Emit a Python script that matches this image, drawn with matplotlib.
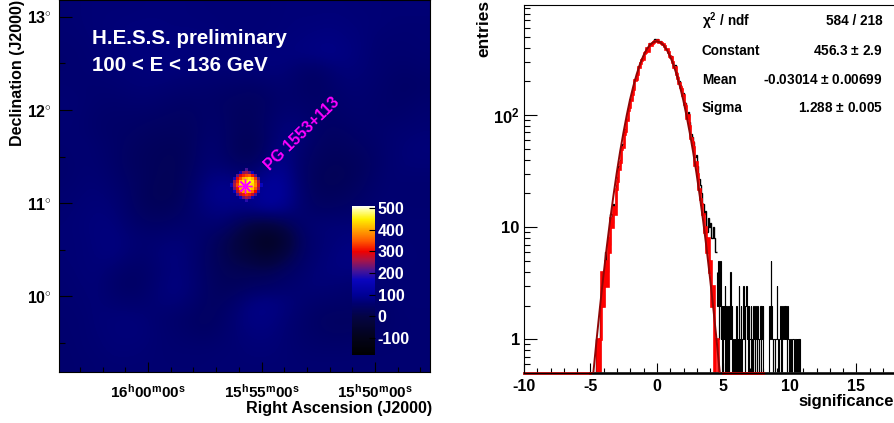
import numpy as np
import matplotlib
matplotlib.use('Agg')
import matplotlib.pyplot as plt
from matplotlib.colors import LinearSegmentedColormap

plt.rcParams['font.family'] = ['Liberation Sans', 'DejaVu Sans']
plt.rcParams['font.weight'] = 'bold'
plt.rcParams['axes.labelweight'] = 'bold'
plt.rcParams['axes.unicode_minus'] = False
plt.rcParams['mathtext.fontset'] = 'custom'
plt.rcParams['mathtext.bf'] = 'Liberation Sans:bold'
plt.rcParams['mathtext.rm'] = 'Liberation Sans:bold'
plt.rcParams['mathtext.default'] = 'bf'

# excess map (top row first)
sky_map = [
    [62,64,66,66,66,68,68,68,68,66,66,66,66,66,68,68,68,68,68,66,66,64,66,66],
    [62,64,66,68,70,70,70,68,68,68,66,66,66,66,68,70,70,72,70,68,66,64,62,62],
    [60,62,66,68,70,70,72,72,72,70,68,66,66,68,70,72,76,78,74,70,62,60,60,62],
    [58,60,64,66,70,72,74,72,70,68,66,64,68,72,74,76,80,85,78,70,60,58,58,60],
    [58,60,62,64,66,68,72,70,68,66,64,66,68,70,68,55,48,60,70,66,60,54,52,56],
    [60,58,58,60,64,66,64,60,58,56,54,50,48,54,58,50,42,50,62,62,56,50,46,50],
    [62,60,56,54,56,58,54,50,48,50,44,42,38,44,54,52,48,50,56,58,54,50,50,56],
    [62,58,52,50,50,48,46,42,42,50,48,36,36,48,62,60,50,48,52,56,52,52,56,60],
    [60,58,52,48,46,42,38,38,38,52,50,36,32,50,70,72,52,42,44,50,54,60,62,64],
    [58,62,56,50,42,36,32,30,36,58,52,30,24,50,78,62,44,36,38,44,50,60,66,70],
    [56,60,58,50,40,34,30,28,38,60,56,42,38,70,88,56,38,30,30,36,48,60,66,66],
    [56,62,62,54,44,36,28,28,44,70,82,72,72,100,100,60,32,26,28,38,52,60,60,60],
    [60,64,66,60,48,32,26,28,50,80,92,88,90,110,105,66,36,32,36,46,56,60,58,58],
    [62,66,70,66,50,36,32,36,54,72,80,78,85,100,90,62,46,44,48,54,60,62,60,60],
    [64,68,72,72,58,48,46,52,56,58,58,30,-5,-10,15,50,62,66,66,66,64,64,62,62],
    [64,66,72,76,66,60,62,66,62,48,25,-5,-50,-85,-50,30,58,66,72,74,68,64,62,62],
    [64,66,70,74,62,56,66,74,62,44,25,0,-20,-45,-5,40,60,70,80,78,70,66,64,62],
    [62,66,68,58,48,50,62,72,64,44,30,25,25,25,40,52,66,72,74,72,66,62,62,62],
    [60,64,66,52,44,50,66,76,66,46,34,34,42,46,54,62,66,64,60,58,60,60,62,62],
    [60,62,66,60,56,58,66,68,58,44,42,56,78,82,74,62,54,52,50,48,50,58,62,62],
    [58,60,66,68,70,66,58,52,46,40,48,66,80,80,68,56,46,40,40,40,46,56,60,60],
    [58,60,64,68,70,68,60,56,50,46,54,64,72,72,64,54,48,44,44,46,52,58,60,60],
    [56,60,62,66,66,64,60,58,58,58,60,62,66,66,62,58,54,54,54,58,60,60,60,60],
    [56,58,60,62,62,62,60,60,60,60,62,62,62,62,62,60,60,60,60,60,60,60,60,60],
]

n = np.nan
source_map = [
    [n,n,n,n,n,210,n,n,n,n,n],
    [n,n,n,170,240,260,230,170,n,n,n],
    [n,n,220,290,320,340,350,310,220,n,n],
    [n,180,290,340,400,420,440,410,330,210,n],
    [n,240,320,410,440,450,460,450,370,260,n],
    [170,260,340,430,450,455,450,440,380,280,170],
    [n,230,310,400,440,450,440,420,350,250,n],
    [n,170,270,330,390,410,400,360,300,190,n],
    [n,n,210,270,310,330,320,280,210,n,n],
    [n,n,n,170,230,260,240,170,n,n,n],
    [n,n,n,n,n,190,n,n,n,n,n],
]

# significance histograms, 0.1 wide bins from -5
black_counts = [
    0,0,0,0,1,1,0,2,3,2,
    4,6,4,8,7,13,11,16,15,24,
    28,35,40,53,55,70,75,93,115,122,
    140,160,176,210,212,238,272,296,315,325,
    360,368,400,382,438,425,448,458,475,462,
    476,452,460,446,434,420,398,392,372,342,
    334,306,276,278,242,222,202,186,176,156,
    132,128,102,106,86,68,64,58,42,44,
    35,27,24,20,16,13,14,9,12,10,
    11,8,10,8,6,
]
# right tail, 0.05 wide bins from 4.5
tail_counts = [
    4,2,5,1,2,5,1,2,0,2,
    1,2,3,0,2,1,0,2,0,1,
    4,1,2,0,0,1,0,1,0,2,
    2,0,1,3,0,1,2,0,1,2,
    3,1,0,2,3,1,2,0,2,1,
    1,2,0,1,0,2,1,0,2,1,
    0,2,1,0,1,2,0,2,1,2,
    0,0,0,0,0,0,0,0,1,2,
    1,5,2,1,0,1,1,0,1,1,
    3,1,0,1,1,2,1,0,2,1,
    1,2,1,2,1,0,2,1,1,0,
    1,1,0,1,1,1,0,1,1,0,
    1,0,1,0,1,0,0,0,0,0,
]
red_counts = [
    0,0,0,0,0,1,0,1,4,2,
    4,5,3,8,6,12,10,15,13,22,
    26,33,38,50,52,68,72,90,112,118,
    135,155,172,205,208,232,268,290,310,318,
    355,362,395,375,432,418,440,450,462,455,
    470,445,452,440,428,415,392,385,365,335,
    328,300,268,270,235,215,195,178,170,150,
    125,120,95,100,80,62,58,52,36,38,
    30,22,18,16,13,9,10,6,8,4,
    5,2,3,0,1,1,0,0,0,0,
]

# fitted gaussian as drawn
fit_x = [-5.03,-4.78,-4.53,-4.28,-4.03,-3.78,-3.53,-3.28,-3.03,-2.78,-2.53,-2.28,-2.03,-1.78,-1.53,-1.28,-1.03,-0.78,-0.53,-0.28,-0.03,
         0.22,0.47,0.72,0.97,1.22,1.47,1.72,1.97,2.22,2.47,2.72,2.97,3.22,3.47,3.72,3.97,4.22,4.47,4.72,4.97]
fit_y = [0.24,0.51,1.02,1.97,3.67,6.6,11.4,18.9,30.3,46.7,69,99,137,181,231,285,337,385,423,447,456,
         447,423,385,337,285,231,181,137,99,69,46.7,30.3,18.9,11.4,6.6,3.67,1.97,1.02,0.51,0.24]

ra_major = [60, 55, 50]
ra_labels = ['$16^{h}00^{m}00^{s}$', '$15^{h}55^{m}00^{s}$', '$15^{h}50^{m}00^{s}$']
dec_major = [10, 11, 12, 13]
dec_labels = ['10$^{\\circ}$', '11$^{\\circ}$', '12$^{\\circ}$', '13$^{\\circ}$']
cbar_ticks = [-100, 0, 100, 200, 300, 400, 500]
stat_names = ['$\\chi^{2}$ / ndf', 'Constant', 'Mean', 'Sigma']
stat_values = ['584 / 218', '456.3 $\\pm$ 2.9', '-0.03014 $\\pm$ 0.00699', '1.288 $\\pm$ 0.005']

W, H = 894, 423
vmin, vmax = -178, 510
nodes = [(-178, (0, 0, 0)), (-100, (3, 3, 25)), (0, (4, 4, 68)), (60, (0, 0, 112)), (100, (0, 0, 150)),
         (170, (10, 5, 190)), (210, (70, 20, 150)), (260, (170, 20, 70)), (300, (240, 0, 0)),
         (350, (255, 90, 0)), (400, (255, 165, 0)), (450, (255, 240, 0)), (490, (255, 255, 150)), (510, (255, 255, 255))]
cmap = LinearSegmentedColormap.from_list(
    'hess', [((v - vmin) / (vmax - vmin), tuple(c / 255 for c in col)) for v, col in nodes], N=512)


def px_axes(fig, x0, y0, x1, y1):
    return fig.add_axes([x0 / W, 1 - y1 / H, (x1 - x0) / W, (y1 - y0) / H])


fig = plt.figure(figsize=(W / 100, H / 100), dpi=100)

# left panel: sky map
ax = px_axes(fig, 59, 0, 430, 372)
ra_left, ra_right = 63.92, 47.58
dec_bottom, dec_top = 9.19, 13.18
im = ax.imshow(sky_map, cmap=cmap, vmin=vmin, vmax=vmax, interpolation='bicubic', aspect='auto',
               extent=[ra_left, ra_right, dec_bottom, dec_top])
ax.imshow(np.ma.masked_invalid(source_map), cmap=cmap, vmin=vmin, vmax=vmax, interpolation='nearest', aspect='auto',
          extent=[56.40, 54.96, 11.01, 11.365])
ax.set_xlim(ra_left, ra_right)
ax.set_ylim(dec_bottom, dec_top)
ax.set_xticks(ra_major)
ax.set_xticklabels(ra_labels, fontsize=11)
ax.set_xticks(np.arange(48, 64), minor=True)
ax.set_yticks(dec_major)
ax.set_yticklabels(dec_labels, fontsize=11.5)
ax.set_yticks(np.arange(9.5, 13.1, 0.5), minor=True)
ax.tick_params(axis='x', which='major', direction='in', length=7.5, width=0.8, pad=8)
ax.tick_params(axis='x', which='minor', direction='in', length=3.6, width=0.8)
ax.tick_params(axis='y', which='major', direction='in', length=9, width=0.8, pad=5)
ax.tick_params(axis='y', which='minor', direction='in', length=4.5, width=0.8)
ax.plot([55.73], [11.18], marker=(8, 2, 0), color='#ff00ff', markersize=10, markeredgewidth=1.0)
ax.text(62.45, 12.77, 'H.E.S.S. preliminary', color='white', fontsize=14.8, va='center')
ax.text(62.45, 12.48, '100 < E < 136 GeV', color='white', fontsize=14.8, va='center')
ax.text(53.2, 11.75, 'PG 1553+113', color='#ff00ff', fontsize=11.4, rotation=44, ha='center', va='center',
        rotation_mode='anchor')
fig.text(432 / W, 1 - 408 / H, 'Right Ascension (J2000)', ha='right', va='center', fontsize=11.6)
fig.text(18 / W, 1 - 0 / H, 'Declination (J2000)', rotation=90, ha='center', va='top', fontsize=11.5)

# colour scale sits on top of the map
cax = px_axes(fig, 352, 206, 375, 355)
cb = fig.colorbar(im, cax=cax, ticks=cbar_ticks)
cb.outline.set_visible(False)
cax.tick_params(axis='y', direction='in', length=4, width=0.8, labelcolor='white', labelsize=11.5, pad=2)

# right panel: significance distribution
ax2 = px_axes(fig, 524, 4.5, 897, 373)
edges_black = -5 + 0.1 * np.arange(len(black_counts) + 1)
edges_tail = 4.5 + 0.05 * np.arange(len(tail_counts) + 1)
edges_red = -5 + 0.1 * np.arange(len(red_counts) + 1)
floor = 0.5
ax2.stairs(np.maximum(black_counts, floor), edges_black, color='black', lw=1.0, baseline=None)
ax2.stairs(np.maximum(tail_counts, floor), edges_tail, color='black', lw=0.8, baseline=None)
ax2.plot([-5, 18], [floor, floor], color='#222222', lw=2.0, clip_on=False)
ax2.stairs(np.maximum(red_counts, floor), edges_red, color='#ff0000', lw=1.9, baseline=None)
ax2.plot([-10, -5], [floor, floor], color='#ad0000', lw=2.0, clip_on=False)
ax2.plot([5, 8], [floor, floor], color='#ad0000', lw=2.0, clip_on=False)
ax2.plot(fit_x, fit_y, color='#8f0606', lw=1.4)
ax2.set_yscale('log')
ax2.set_xlim(-10, 18.05)
ax2.set_ylim(0.5, 970)
ax2.set_xticks([-10, -5, 0, 5, 10, 15])
ax2.set_xticklabels(['-10', '-5', '0', '5', '10', '15'], fontsize=11.5)
ax2.set_xticks(np.arange(-10, 19), minor=True)
ax2.set_yticks([1, 10, 100])
ax2.set_yticklabels(['1', '10', '$10^{2}$'], fontsize=12)
ax2.yaxis.set_minor_locator(matplotlib.ticker.LogLocator(base=10, subs=np.arange(2, 10), numticks=12))
ax2.yaxis.set_minor_formatter(matplotlib.ticker.NullFormatter())
ax2.tick_params(axis='x', which='major', direction='in', length=7.5, width=0.8, pad=4)
ax2.tick_params(axis='x', which='minor', direction='in', length=3.6, width=0.8)
ax2.tick_params(axis='y', which='major', direction='in', length=9, width=0.8, pad=3)
ax2.tick_params(axis='y', which='minor', direction='in', length=4.5, width=0.8)
for name, value, y_px in zip(stat_names, stat_values, [21, 51, 80, 108]):
    fig.text(702 / W, 1 - y_px / H, name, fontsize=9.8, va='center')
    fig.text(883 / W, 1 - y_px / H, value, fontsize=9.8, va='center', ha='right')
fig.text(894 / W, 1 - 401 / H, 'significance', ha='right', va='center', fontsize=12)
fig.text(484 / W, 1 - 0 / H, 'entries', rotation=90, ha='center', va='top', fontsize=12.5)

fig.savefig('out.png', dpi=100)
